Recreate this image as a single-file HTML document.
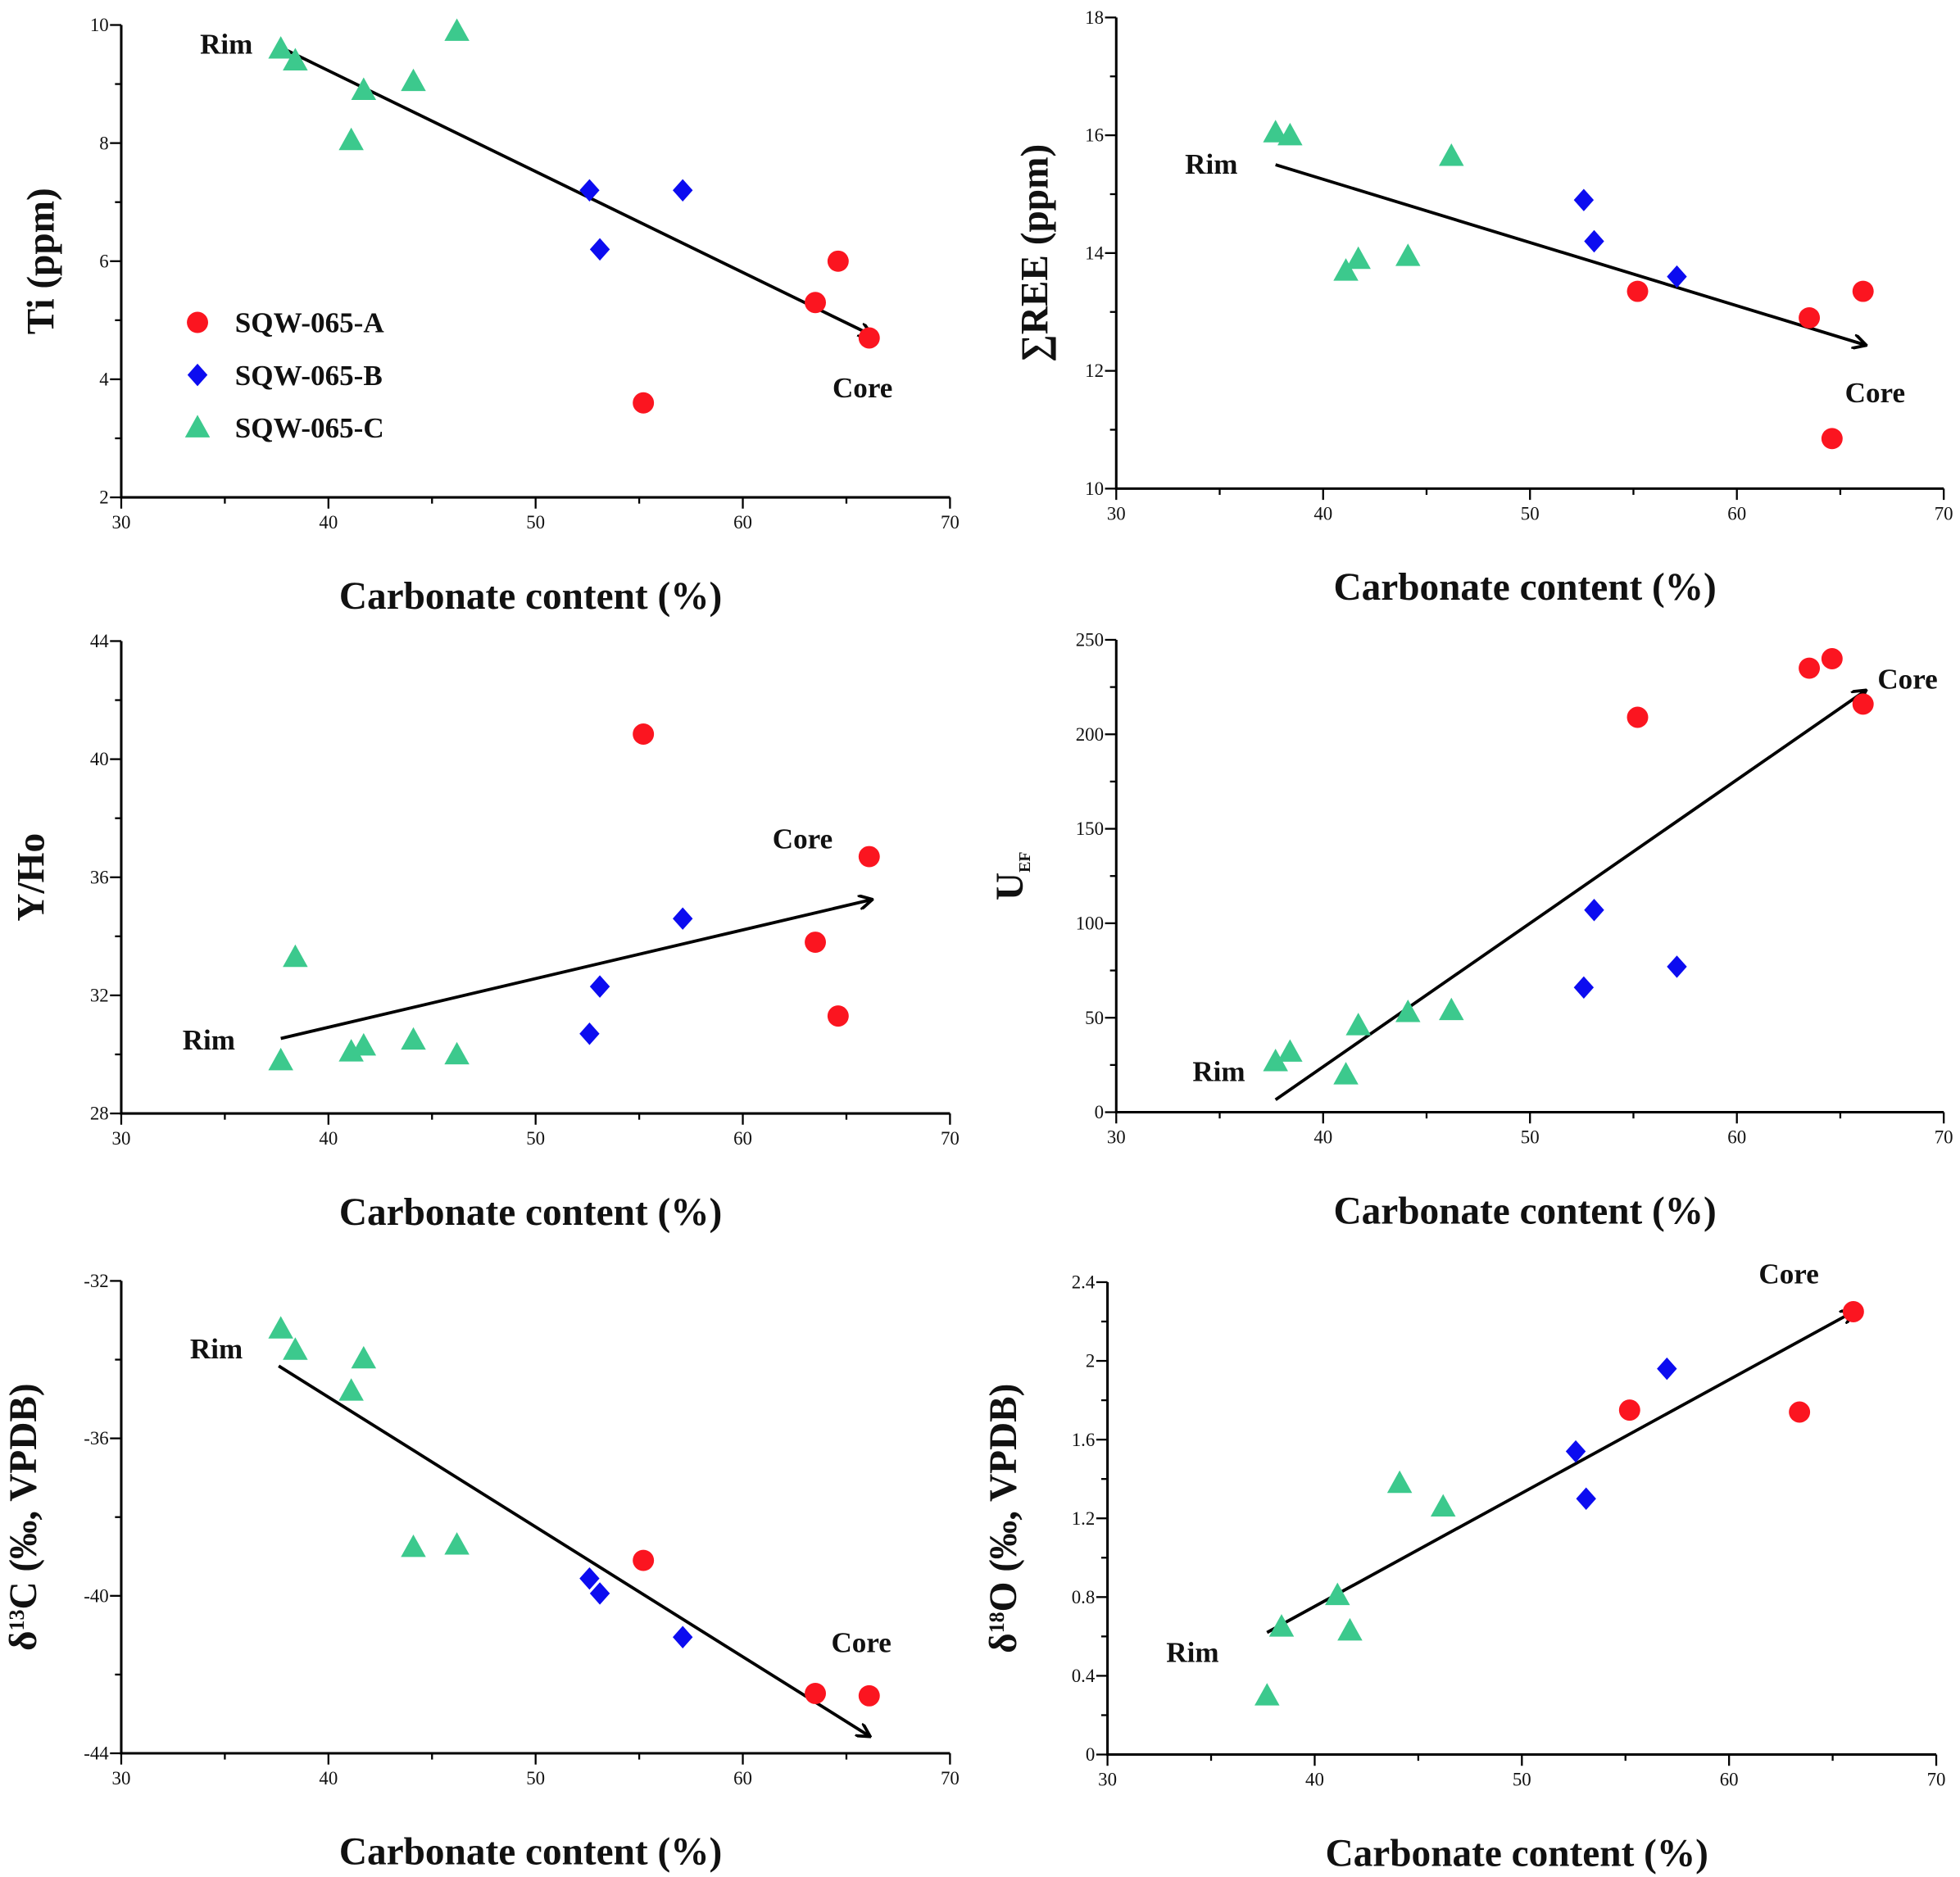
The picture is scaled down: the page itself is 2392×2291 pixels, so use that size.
<!DOCTYPE html>
<html><head><meta charset="utf-8"><style>
html,body{margin:0;padding:0;background:#fff;}
svg{display:block;}
text{font-family:"Liberation Serif",serif;fill:#111;}
.tl{font-size:15px;}
.tt{font-size:31px;font-weight:bold;}
.an{font-size:23px;font-weight:bold;}
</style></head><body>
<svg id="fig" width="2392" height="2291" viewBox="0 0 1568 1502" preserveAspectRatio="none" xmlns="http://www.w3.org/2000/svg">
<defs><marker id="ah" markerWidth="12" markerHeight="12" refX="10" refY="6" orient="auto" markerUnits="userSpaceOnUse" viewBox="0 0 12 12"><polyline points="0,0 11,6 0,12" fill="none" stroke="#000" stroke-width="2.5"/></marker></defs>
</svg>
<script>
// shared x data (carbonate content %)
const xA=[55.2,63.5,64.6,66.1];
const xB=[52.6,53.1,57.1];
const xC=[37.7,38.4,41.1,41.7,44.1,46.2];
const xTicks=[30,40,50,60,70];
// panel values
const tiA=[3.6,5.3,6.0,4.7], tiB=[7.2,6.2,7.2], tiC=[9.6,9.4,8.05,8.9,9.05,9.9];
const reeA=[13.35,12.9,10.85,13.35], reeB=[14.9,14.2,13.6], reeC=[16.05,16.0,13.7,13.9,13.95,15.65];
const yhoA=[40.85,33.8,31.3,36.7], yhoB=[30.7,32.3,34.6], yhoC=[29.8,33.3,30.1,30.3,30.5,30.0];
const uA=[209,235,240,216], uB=[66,107,77], uC=[27,32,20,46,53,54];
const cA=[-39.1,-42.48,-42.54], cAx=[55.2,63.5,66.1], cB=[-39.56,-39.94,-41.05], cC=[-33.21,-33.75,-34.79,-33.97,-38.76,-38.7];
const oA=[1.75,1.74,2.25], oAx=[55.2,63.4,66.0], oB=[1.54,1.30,1.96], oBx=[52.6,53.1,57.0], oC=[0.30,0.65,0.81,0.63,1.38,1.26];
const tiTicks=[2,4,6,8,10], reeTicks=[10,12,14,16,18], yhoTicks=[28,32,36,40,44], uTicks=[0,50,100,150,200,250], cTicks=[-44,-40,-36,-32], oTicks=[0,0.4,0.8,1.2,1.6,2,2.4];

const NS="http://www.w3.org/2000/svg";
const svg=document.getElementById('fig');
function mk(tag,attrs,parent,txt){const e=document.createElementNS(NS,tag);for(const k in attrs)e.setAttribute(k,attrs[k]);if(txt!==undefined)e.textContent=txt;(parent||svg).appendChild(e);return e;}

function panel(p){
  const g=mk('g',{});
  
  
  const X=v=>p.x0+(v-30)/40*(p.x1-p.x0);
  const Y=v=>p.y1-(v-p.ymin)/(p.ymax-p.ymin)*(p.y1-p.y0);
  const ax=mk('path',{d:`M${p.x0},${p.y0}V${p.y1}H${p.x1}`,stroke:'#000','stroke-width':2,fill:'none'},g);
  
  
  for(let v=30;v<=70;v+=5){const x=X(v);mk('line',{x1:x,x2:x,y1:p.y1,y2:p.y1+(v%10==0?9:5),stroke:'#000','stroke-width':1.5},g);}
  xTicks.forEach(v=>{const t=mk('text',{x:X(v),y:p.y1+25,'text-anchor':'middle',class:'tl'},g,v);});
  const yt=p.yticks;const step=yt[1]-yt[0];
  for(let i=0;i<yt.length;i++){const y=Y(yt[i]);mk('line',{x1:p.x0-9,x2:p.x0,y1:y,y2:y,stroke:'#000','stroke-width':1.5},g);
    const t=mk('text',{x:p.x0-10,y:y+5,'text-anchor':'end',class:'tl'},g,yt[i]);
    if(i<yt.length-1){const ym=Y(yt[i]+step/2);mk('line',{x1:p.x0-5,x2:p.x0,y1:ym,y2:ym,stroke:'#000','stroke-width':1.5},g);}}
  const xt=mk('text',{x:(p.x0+p.x1)/2-4,y:p.y1+89,'text-anchor':'middle',class:'tt'},g,'Carbonate content (%)');
  
  const yl=mk('text',{x:0,y:0,'text-anchor':'middle',class:'tt',transform:`translate(${p.ytx},${(p.y0+p.y1)/2}) rotate(-90)`},g);
  yl.innerHTML=p.ylab;
  
  const ar=mk('line',{x1:X(p.arrow[0]),y1:Y(p.arrow[1]),x2:X(p.arrow[2]),y2:Y(p.arrow[3]),stroke:'#000','stroke-width':2.5,'marker-end':'url(#ah)'},g);
  
  const r=mk('text',{x:p.rim[0],y:p.rim[1],class:'an'},g,'Rim');
  const c=mk('text',{x:p.core[0],y:p.core[1],class:'an'},g,'Core');
  p.series.forEach(s=>{s.xs.forEach((xv,i)=>{const px=X(xv),py=Y(s.ys[i]);let m;
    if(s.t=='A')m=mk('circle',{cx:px,cy:py,r:8.5,fill:'#fb1520'},g);
    else if(s.t=='B')m=mk('polygon',{points:`${px},${py-9} ${px+8},${py} ${px},${py+9} ${px-8},${py}`,fill:'#0c0cf0'},g);
    else m=mk('polygon',{points:`${px},${py-10} ${px+10},${py+8} ${px-10},${py+8}`,fill:'#3cc98d'},g);
    });});
}
const L=[97,760], R=[893,1555];
panel({name:'ti-panel',x0:L[0],x1:L[1],y0:20,y1:398,ymin:2,ymax:10,yticks:tiTicks,ytx:43,ylab:'Ti (ppm)',arrow:[37.7,9.62,66.2,4.75],rim:[160,43],core:[666,318],series:[{t:'A',xs:xA,ys:tiA},{t:'B',xs:xB,ys:tiB},{t:'C',xs:xC,ys:tiC}]});
panel({name:'ree-panel',x0:R[0],x1:R[1],y0:14,y1:391,ymin:10,ymax:18,yticks:reeTicks,ytx:838,ylab:'∑REE (ppm)',arrow:[37.7,15.5,66.2,12.44],rim:[948,139],core:[1476,322],series:[{t:'A',xs:xA,ys:reeA},{t:'B',xs:xB,ys:reeB},{t:'C',xs:xC,ys:reeC}]});
panel({name:'yho-panel',x0:L[0],x1:L[1],y0:513,y1:891,ymin:28,ymax:44,yticks:yhoTicks,ytx:35,ylab:'Y/Ho',arrow:[37.7,30.54,66.2,35.24],rim:[146,840],core:[618,679],series:[{t:'A',xs:xA,ys:yhoA},{t:'B',xs:xB,ys:yhoB},{t:'C',xs:xC,ys:yhoC}]});
panel({name:'uef-panel',x0:R[0],x1:R[1],y0:512,y1:890,ymin:0,ymax:250,yticks:uTicks,ytx:818,ylab:'U<tspan font-size="13" dy="6">EF</tspan>',arrow:[37.7,6.6,66.2,223],rim:[954,865],core:[1502,551],series:[{t:'A',xs:xA,ys:uA},{t:'B',xs:xB,ys:uB},{t:'C',xs:xC,ys:uC}]});
panel({name:'d13c-panel',x0:L[0],x1:L[1],y0:1025,y1:1403,ymin:-44,ymax:-32,yticks:cTicks,ytx:29,ylab:'δ<tspan font-size="17" dy="-10">13</tspan><tspan dy="10">C (‰, VPDB)</tspan>',arrow:[37.6,-34.16,66.1,-43.56],rim:[152,1087],core:[665,1322],series:[{t:'A',xs:cAx,ys:cA},{t:'B',xs:xB,ys:cB},{t:'C',xs:xC,ys:cC}]});
panel({name:'d18o-panel',x0:886,x1:1549,y0:1026,y1:1404,ymin:0,ymax:2.4,yticks:oTicks,ytx:813,ylab:'δ<tspan font-size="17" dy="-10">18</tspan><tspan dy="10">O (‰, VPDB)</tspan>',arrow:[37.7,0.62,66.0,2.25],rim:[933,1330],core:[1407,1027],series:[{t:'A',xs:oAx,ys:oA},{t:'B',xs:oBx,ys:oB},{t:'C',xs:xC,ys:oC}]});
// legend
const lg=mk('g',{});


[['A',258,'SQW-065-A'],['B',300,'SQW-065-B'],['C',342,'SQW-065-C']].forEach(([t,y,l])=>{let m;
 if(t=='A')m=mk('circle',{cx:158,cy:y,r:8.5,fill:'#fb1520'},lg);
 else if(t=='B')m=mk('polygon',{points:`158,${y-9} 166,${y} 158,${y+9} 150,${y}`,fill:'#0c0cf0'},lg);
 else m=mk('polygon',{points:`158,${y-10} 168,${y+8} 148,${y+8}`,fill:'#3cc98d'},lg);
 
 const tx=mk('text',{x:188,y:y+8,class:'an'},lg,l);});
</script>
</body></html>
